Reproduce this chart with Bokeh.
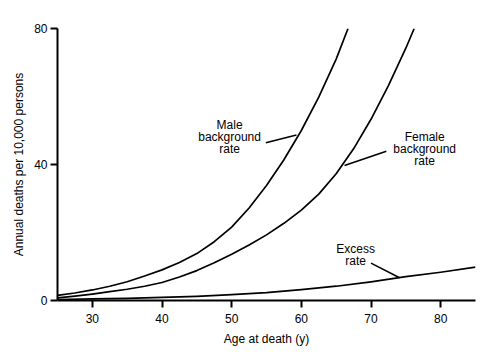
from bokeh.plotting import figure
from bokeh.models import Range1d, FixedTicker
from bokeh.core.properties import value
from bokeh.embed import file_html
from bokeh.resources import INLINE

# ---- data ----
male_age = [25, 27.5, 30, 32.5, 35, 37.5, 40, 42.5, 45, 47.5, 50, 52.5, 55, 57.5, 60, 62.5, 65, 66.7]
male_rate = [1.5, 2.2, 3.1, 4.2, 5.5, 7.2, 9.0, 11.2, 13.8, 17.3, 21.6, 27.2, 33.8, 41.4, 50.0, 59.8, 71.0, 80.0]

female_age = [25, 27.5, 30, 32.5, 35, 37.5, 40, 42.5, 45, 47.5, 50, 52.5, 55, 57.5, 60, 62.5, 65, 67.5, 70, 72.5, 75, 76.2]
female_rate = [0.8, 1.3, 1.9, 2.6, 3.3, 4.2, 5.3, 6.9, 8.8, 11.1, 13.6, 16.3, 19.3, 22.7, 26.6, 31.3, 37.3, 44.6, 53.3, 63.2, 74.2, 80.0]

excess_age = [25, 30, 35, 40, 45, 50, 55, 60, 65, 70, 75, 80, 85]
excess_rate = [0.3, 0.45, 0.6, 0.9, 1.2, 1.7, 2.3, 3.2, 4.2, 5.5, 7.0, 8.3, 9.8]

x_ticks = [30, 40, 50, 60, 70, 80]
y_ticks = [0, 40, 80]

# ---- annotation anchors (data coordinates) ----
male_label = (["Male", "background", "rate"], 49.7, [51.5, 48.0, 44.6])
male_leader = ([54.9, 59.3], [46.4, 48.7])
female_label = (["Female", "background", "rate"], 77.7, [48.0, 44.6, 41.0])
female_leader = ([66.2, 72.2], [39.7, 43.9])
excess_label = (["Excess", "rate"], 67.8, [15.2, 11.6])
excess_leader = ([70.0, 74.1], [11.0, 6.7])

FONT = "Liberation Sans"

p = figure(width=482, height=348, output_backend="svg", toolbar_location=None,
           x_range=Range1d(25, 85), y_range=Range1d(0, 80),
           min_border_left=57, min_border_right=7, min_border_top=28, min_border_bottom=48)
p.outline_line_color = None
p.xgrid.visible = False
p.ygrid.visible = False
p.background_fill_color = "white"
p.border_fill_color = "white"

for ax in (p.xaxis[0], p.yaxis[0]):
    ax.axis_line_width = 2
    ax.axis_line_color = "black"
    ax.major_tick_line_width = 2
    ax.major_tick_line_color = "black"
    ax.major_tick_in = 0
    ax.major_tick_out = 7
    ax.minor_tick_line_color = None
    ax.major_label_text_font = FONT
    ax.major_label_text_font_size = "12px"
    ax.major_label_text_color = "black"
    ax.axis_label_text_font = FONT
    ax.axis_label_text_font_size = "12px"
    ax.axis_label_text_font_style = "normal"
    ax.axis_label_text_color = "black"

p.xaxis.ticker = FixedTicker(ticks=x_ticks)
p.yaxis.ticker = FixedTicker(ticks=y_ticks)
p.xaxis.axis_label = "Age at death (y)"
p.yaxis.axis_label = "Annual deaths per 10,000 persons"
p.xaxis.major_label_standoff = 6
p.xaxis.axis_label_standoff = 6
p.yaxis.major_label_standoff = 3
p.yaxis.axis_label_standoff = 5

for xs, ys in ((male_age, male_rate), (female_age, female_rate), (excess_age, excess_rate)):
    p.line(xs, ys, line_color="black", line_width=1.7, line_join="round")

for xs, ys in (male_leader, female_leader, excess_leader):
    p.line(xs, ys, line_color="black", line_width=1.6)

for texts, x, ys in (male_label, female_label, excess_label):
    p.text(x=[x] * len(texts), y=ys, text=texts, text_align="center", text_baseline="middle",
           text_font=value(FONT), text_font_size="12px", text_color="black")

open("out.html", "w").write(file_html(p, INLINE))
